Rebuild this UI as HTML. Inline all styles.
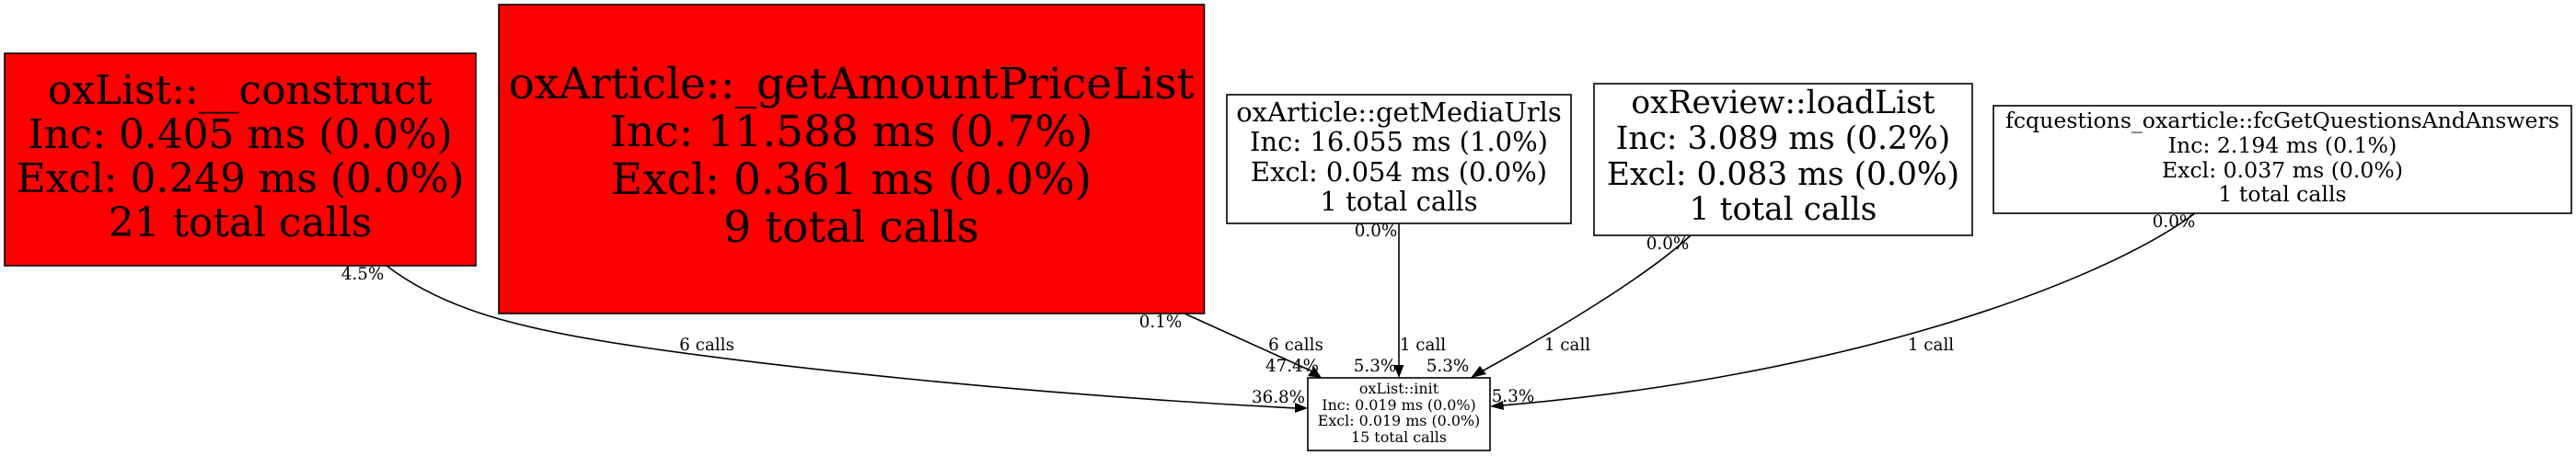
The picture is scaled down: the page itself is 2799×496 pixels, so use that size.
<!DOCTYPE html>
<html><head><meta charset="utf-8"><style>
html,body{margin:0;padding:0;background:#fff}
svg{display:block}
text{font-family:"DejaVu Serif",serif;fill:#000;text-anchor:middle}
.e{font-size:18.3px}
rect{stroke:#000;stroke-width:1.6}
path.l{fill:none;stroke:#000;stroke-width:1.6}
</style></head><body>
<svg width="2799" height="496" viewBox="0 0 2799 496" xmlns="http://www.w3.org/2000/svg">
<rect x="5" y="58" width="512" height="231" fill="#f00"/>
<g font-size="43.8"><text x="261" y="113">oxList::__construct</text><text x="261" y="161">Inc: 0.405 ms (0.0%)</text><text x="261" y="209">Excl: 0.249 ms (0.0%)</text><text x="261" y="257">21 total calls</text></g>
<rect x="542" y="5" width="766.5" height="336" fill="#f00"/>
<g font-size="47"><text x="925" y="107">oxArticle::_getAmountPriceList</text><text x="925" y="159">Inc: 11.588 ms (0.7%)</text><text x="925" y="211">Excl: 0.361 ms (0.0%)</text><text x="925" y="263">9 total calls</text></g>
<rect x="1333" y="103" width="374" height="140" fill="#fff"/>
<g font-size="29"><text x="1520" y="132">oxArticle::getMediaUrls</text><text x="1520" y="164">Inc: 16.055 ms (1.0%)</text><text x="1520" y="197">Excl: 0.054 ms (0.0%)</text><text x="1520" y="229">1 total calls</text></g>
<rect x="1732" y="91" width="411" height="165" fill="#fff"/>
<g font-size="34.5"><text x="1937.5" y="123">oxReview::loadList</text><text x="1937.5" y="162">Inc: 3.089 ms (0.2%)</text><text x="1937.5" y="201">Excl: 0.083 ms (0.0%)</text><text x="1937.5" y="239">1 total calls</text></g>
<rect x="2166" y="115" width="628" height="117" fill="#fff"/>
<g font-size="23.6"><text x="2480" y="139">fcquestions_oxarticle::fcGetQuestionsAndAnswers</text><text x="2480" y="166">Inc: 2.194 ms (0.1%)</text><text x="2480" y="193">Excl: 0.037 ms (0.0%)</text><text x="2480" y="219">1 total calls</text></g>
<rect x="1421" y="411" width="198" height="79" fill="#fff"/>
<g font-size="15.9"><text x="1520" y="428">oxList::init</text><text x="1520" y="446">Inc: 0.019 ms (0.0%)</text><text x="1520" y="463">Excl: 0.019 ms (0.0%)</text><text x="1520" y="481">15 total calls</text></g>
<path class="l" d="M420,289 C480,335 560,358 700,378 C830,397 1100,428 1408,444"/>
<polygon points="1421,444 1407,449 1407,438"/>
<path class="l" d="M1287,341 L1426,404"/>
<polygon points="1436,411 1421,409 1428,399"/>
<path class="l" d="M1520,243 L1520,398"/>
<polygon points="1520,411 1514.5,397 1525.5,397"/>
<path class="l" d="M1837,256 C1790,300 1690,360 1610,404"/>
<polygon points="1598,411 1608,398 1615,407"/>
<path class="l" d="M2385,232 C2280,310 2000,410 1632,441"/>
<polygon points="1619,442 1633,436 1634,446"/>
<g class="e">
<text x="394" y="304">4.5%</text>
<text x="768" y="381">6 calls</text>
<text x="1261" y="356">0.1%</text>
<text x="1408" y="381">6 calls</text>
<text x="1404" y="404">47.4%</text>
<text x="1494" y="404">5.3%</text>
<text x="1573" y="404">5.3%</text>
<text x="1389" y="438">36.8%</text>
<text x="1644" y="437">5.3%</text>
<text x="1546" y="381">1 call</text>
<text x="1703" y="381">1 call</text>
<text x="2098" y="381">1 call</text>
<text x="1495" y="257">0.0%</text>
<text x="1812" y="271">0.0%</text>
<text x="2362" y="247">0.0%</text>
</g>
</svg>
</body></html>
